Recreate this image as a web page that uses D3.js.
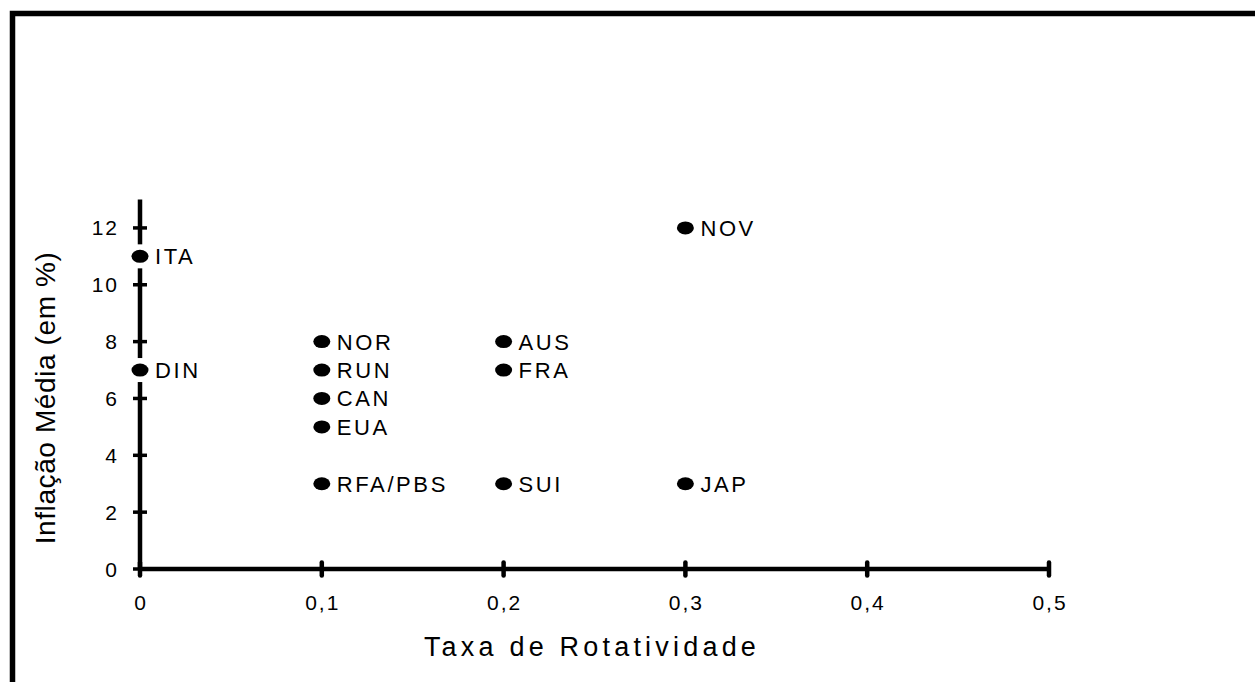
<!DOCTYPE html>
<html>
<head>
<meta charset="utf-8">
<script src="https://cdn.jsdelivr.net/npm/d3@7"></script>
<style>
  body { margin: 0; background: #fff; }
  svg { display: block; font-family: "Liberation Sans", Arial, sans-serif; }
</style>
</head>
<body>
<svg width="1255" height="682"></svg>
<script>
// data
var countries = ["ITA", "DIN", "NOR", "RUN", "CAN", "EUA", "RFA/PBS", "AUS", "FRA", "SUI", "NOV", "JAP"];
var turnover  = [0, 0, 0.1, 0.1, 0.1, 0.1, 0.1, 0.2, 0.2, 0.2, 0.3, 0.3];
var inflation = [11, 7, 8, 7, 6, 5, 3, 8, 7, 3, 12, 3];
var xTicks = [0, 0.1, 0.2, 0.3, 0.4, 0.5];
var yTicks = [0, 2, 4, 6, 8, 10, 12];

var data = countries.map(function(c, i) {
  return {name: c, x: turnover[i], y: inflation[i]};
});

var svg = d3.select("svg");

// frame (only top and left edges show)
svg.append("path")
    .attr("d", "M12.5,682V13.5H1255")
    .attr("fill", "none")
    .attr("stroke", "#000")
    .attr("stroke-width", 5.5);

var x = d3.scaleLinear().domain([0, 0.5]).range([140, 1049]);
var y = d3.scaleLinear().domain([0, 13]).range([569, 199.5]);

var fmt = function(d) { return d === 0 ? "0" : String(d).replace(".", ","); };

// x axis
var gx = svg.append("g").attr("transform", "translate(0," + y(0) + ")");
gx.append("line")
    .attr("x1", x(0)).attr("x2", x(0.5))
    .attr("stroke", "#000").attr("stroke-width", 4.5);
gx.selectAll(".tk").data(xTicks).enter().append("line")
    .attr("x1", function(d) { return x(d); }).attr("x2", function(d) { return x(d); })
    .attr("y1", -6.5).attr("y2", 6.5)
    .attr("stroke", "#000").attr("stroke-width", 4.5).attr("stroke-linecap", "round");
gx.selectAll(".lb").data(xTicks).enter().append("text")
    .attr("x", function(d) { return x(d) + 1; })
    .attr("y", 41)
    .attr("text-anchor", "middle")
    .attr("font-size", 21)
    .attr("letter-spacing", 2)
    .text(fmt);

// y axis
var gy = svg.append("g").attr("transform", "translate(" + x(0) + ",0)");
gy.append("line")
    .attr("y1", y(0)).attr("y2", y(13))
    .attr("stroke", "#000").attr("stroke-width", 4.5);
gy.selectAll(".tk").data(yTicks).enter().append("line")
    .attr("y1", function(d) { return y(d); }).attr("y2", function(d) { return y(d); })
    .attr("x1", -7).attr("x2", 7)
    .attr("stroke", "#000").attr("stroke-width", 3.5);
gy.selectAll(".lb").data(yTicks).enter().append("text")
    .attr("x", -21)
    .attr("y", function(d) { return y(d) + 7.5; })
    .attr("text-anchor", "end")
    .attr("font-size", 21)
    .attr("letter-spacing", 2)
    .text(function(d) { return d; });

// axis titles
svg.append("text")
    .attr("x", 592).attr("y", 656)
    .attr("text-anchor", "middle")
    .attr("font-size", 27)
    .attr("letter-spacing", 4.2)
    .text("Taxa de Rotatividade");

svg.append("text")
    .attr("transform", "translate(55,398) rotate(-90)")
    .attr("text-anchor", "middle")
    .attr("font-size", 28)
    .attr("letter-spacing", 0.6)
    .text("Inflação Média (em %)");

// points with labels
var pts = svg.selectAll(".pt").data(data).enter().append("g")
    .attr("transform", function(d) { return "translate(" + x(d.x) + "," + y(d.y) + ")"; });

pts.append("rect")
    .attr("x", -10).attr("y", -12)
    .attr("height", 24)
    .attr("width", function(d) { return 30 + d.name.length * 17; })
    .attr("fill", "#fff");

pts.append("ellipse")
    .attr("rx", 8.5).attr("ry", 6.5)
    .attr("fill", "#000");

pts.append("text")
    .attr("x", 15)
    .attr("y", 8)
    .attr("font-size", 22)
    .attr("letter-spacing", 2.6)
    .text(function(d) { return d.name; });
</script>
</body>
</html>
